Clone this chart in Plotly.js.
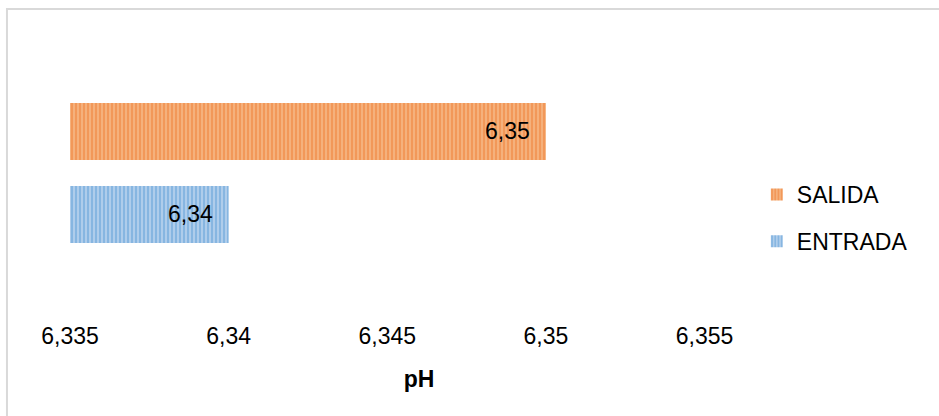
<!DOCTYPE html>
<html>
<head>
<meta charset="utf-8">
<script src="https://cdn.plot.ly/plotly-3.0.1.min.js"></script>
<style>html,body{margin:0;padding:0;background:#fff;}#chart{width:939px;height:416px;}</style>
</head>
<body>
<div id="chart"></div>
<script>
const seriesNames = ["ENTRADA", "SALIDA"];
const seriesValues = [6.34, 6.35];
const valueLabels = ["6,34", "6,35"];
const tickValues = [6.335, 6.34, 6.345, 6.35, 6.355];
const tickLabels = ["6,335", "6,34", "6,345", "6,35", "6,355"];
const axisTitle = "pH";

const fg = ["#5B9BD5", "#ED7D31"];
const bg = ["#B3D0EC", "#F6B380"];
const ranks = [2, 1];

const traces = seriesNames.map((name, i) => ({
  type: "bar",
  orientation: "h",
  name: name,
  x: [seriesValues[i]],
  y: [name],
  width: 0.687,
  legendgroup: name,
  legendrank: ranks[i],
  textposition: "none",
  marker: {
    color: bg[i],
    line: {width: 0},
    pattern: {shape: "|", fgcolor: fg[i], bgcolor: bg[i], size: 4, solidity: 0.55, fillmode: "overlay"}
  },
  hoverinfo: "skip"
}));

const annotations = seriesNames.map((name, i) => ({
  x: seriesValues[i], y: name, xref: "x", yref: "y",
  text: valueLabels[i], showarrow: false, xanchor: "right", xshift: -14,
  font: {family: "Liberation Sans, Arial, sans-serif", size: 23, color: "#000"}
}));

const layout = {
  width: 939, height: 416,
  margin: {l: 70, r: 171, t: 20, b: 96},
  paper_bgcolor: "#fff", plot_bgcolor: "rgba(0,0,0,0)",
  barmode: "overlay",
  separators: ", ",
  font: {family: "Liberation Sans, Arial, sans-serif", size: 23, color: "#000"},
  xaxis: {
    range: [6.335, 6.357], tickmode: "array", tickvals: tickValues, ticktext: tickLabels,
    showgrid: false, zeroline: false, showline: false, ticks: "",
    tickfont: {size: 23, color: "#000"},
    title: {text: "<b>" + axisTitle + "</b>", font: {size: 23, color: "#000"}, standoff: 22}
  },
  yaxis: {
    type: "category", categoryorder: "array", categoryarray: seriesNames,
    range: [-1.271, 2.343], showticklabels: false, showgrid: false, zeroline: false, showline: false, ticks: ""
  },
  legend: {
    x: 0.984, xanchor: "left", y: 0.49, yanchor: "top",
    traceorder: "grouped", tracegroupgap: 14,
    font: {size: 23, color: "#000"}, bgcolor: "rgba(0,0,0,0)"
  },
  annotations: annotations,
  shapes: [{
    type: "rect", xref: "paper", yref: "paper",
    x0: -0.0903, x1: 1.3, y0: -0.4, y1: 1.0367,
    line: {color: "#D9D9D9", width: 2}, fillcolor: "rgba(0,0,0,0)", layer: "below"
  }],
  showlegend: true
};

Plotly.newPlot("chart", traces, layout, {displayModeBar: false, staticPlot: true});
</script>
</body>
</html>
